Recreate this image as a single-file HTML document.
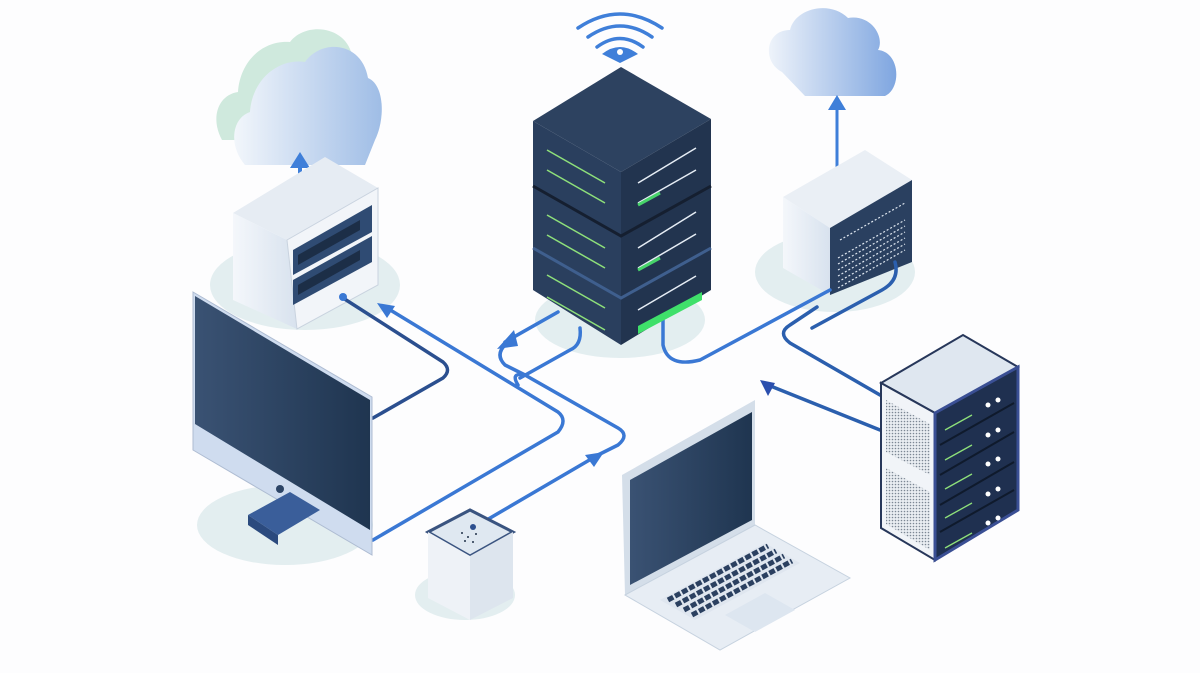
<!DOCTYPE html>
<html><head><meta charset="utf-8"><style>
html,body{margin:0;padding:0;background:#fdfdfe;}
svg{display:block}
</style></head><body>
<svg width="1200" height="673" viewBox="0 0 1200 673" xmlns="http://www.w3.org/2000/svg">
<defs>
<linearGradient id="cl" x1="0" x2="1" y1="0" y2="0"><stop offset="0" stop-color="#f2f6fb"/><stop offset="1" stop-color="#9fbde6"/></linearGradient>
<linearGradient id="cl2" x1="0" x2="1"><stop offset="0" stop-color="#eef3fa"/><stop offset="1" stop-color="#7fa6e0"/></linearGradient>
<linearGradient id="scr" x1="0" x2="1"><stop offset="0" stop-color="#3a5273"/><stop offset="1" stop-color="#1f3550"/></linearGradient>
<linearGradient id="lt" x1="0" x2="1"><stop offset="0" stop-color="#f4f7fb"/><stop offset="1" stop-color="#d8e2ee"/></linearGradient>
<pattern id="dots" width="3" height="3" patternUnits="userSpaceOnUse"><rect width="3" height="3" fill="#e9edf2"/><circle cx="1.5" cy="1.5" r="0.8" fill="#7c8794"/></pattern>
</defs>

<!-- shadows -->
<ellipse cx="305" cy="285" rx="95" ry="45" fill="#e3eef0"/>
<ellipse cx="620" cy="320" rx="85" ry="38" fill="#e3eef0"/>
<ellipse cx="835" cy="272" rx="80" ry="40" fill="#e3eef0"/>
<ellipse cx="285" cy="525" rx="88" ry="40" fill="#e3eef0"/>
<ellipse cx="465" cy="595" rx="50" ry="25" fill="#e3eef0"/>

<!-- left cloud -->
<g>
<path d="M222,140 C210,118 218,95 238,92 C240,62 262,40 290,42 C305,22 345,25 352,55 L352,140 Z" fill="#cfe9dd"/>
<path d="M245,165 C228,145 232,118 250,112 C252,80 278,58 305,62 C322,38 362,42 368,78 C385,85 385,120 375,140 L365,165 Z" fill="url(#cl)"/>
</g>
<line x1="300" y1="190" x2="300" y2="165" stroke="#3f7fd9" stroke-width="4"/>
<polygon points="290,168 300,152 310,168" fill="#3f7fd9"/>

<!-- NAS box -->
<polygon points="233,213 325,157 378,188 287,240" fill="#e6ecf3"/>
<polygon points="233,213 287,240 297,329 233,300" fill="url(#lt)"/>
<polygon points="287,240 378,188 378,285 297,329" fill="#f2f5f9" stroke="#c9d3df"/>
<polygon points="293,250 372,205 372,232 293,275" fill="#2f4b73"/>
<polygon points="293,280 372,236 372,262 293,305" fill="#2f4b73"/>
<polygon points="298,255 360,220 360,230 298,265" fill="#1c2e47"/>
<polygon points="298,285 360,250 360,260 298,295" fill="#1c2e47"/>

<!-- right cloud -->
<path d="M782,72 C762,62 765,30 790,30 C795,8 830,0 848,18 C872,14 885,38 878,50 C900,52 902,88 885,96 L805,96 Z" fill="url(#cl2)"/>
<line x1="837" y1="190" x2="837" y2="108" stroke="#3f7fd9" stroke-width="3"/>
<polygon points="828,110 837,95 846,110" fill="#3f7fd9"/>

<!-- right box -->
<polygon points="783,197 865,150 912,180 830,228" fill="#eaeff5"/>
<polygon points="783,197 830,228 830,295 783,268" fill="url(#lt)"/>
<polygon points="830,228 912,180 912,262 830,295" fill="#2a4060"/>
<g stroke="#dfe7f0" stroke-width="1.2" stroke-dasharray="2 2">
<line x1="840" y1="240" x2="905" y2="203"/>
<line x1="838" y1="258" x2="905" y2="220"/>
<line x1="838" y1="264" x2="905" y2="226"/>
<line x1="838" y1="270" x2="905" y2="232"/>
<line x1="838" y1="276" x2="905" y2="238"/>
<line x1="838" y1="282" x2="905" y2="244"/>
<line x1="838" y1="288" x2="905" y2="250"/>
</g>

<!-- connectors -->
<g fill="none" stroke="#3a78d4" stroke-width="3.5" stroke-linecap="round" stroke-linejoin="round">
<path d="M373,418 L443,378 Q452,370 443,362 L343,298" stroke="#2b4f8f"/>
<path d="M373,540 L558,432 Q568,420 558,412 L387,308"/>
<path d="M473,528 L598,455 L618,445 Q630,435 618,428 L525,375 Q510,372 518,385"/>
<path d="M505,342 L558,312"/>
<path d="M580,328 Q582,345 570,350 L520,378"/>
<path d="M505,345 Q495,355 505,365 L525,375"/>
<path d="M663,320 L663,345 Q668,368 700,360 L830,290"/>
<path d="M817,307 L790,325 Q777,333 790,343 L880,395" stroke="#2b5fae"/>
<path d="M880,430 L768,385" stroke="#2b5fae"/>
<path d="M895,262 Q900,280 882,290 L812,328" stroke="#2b5fae"/>
</g>
<polygon points="377,303 395,306 387,318" fill="#3a78d4"/>
<polygon points="497,349 514,330 518,346" fill="#3a78d4"/>
<polygon points="604,452 585,455 594,467" fill="#3a78d4"/>
<polygon points="760,380 775,383 768,396" fill="#2b4fae"/>
<circle cx="343" cy="297" r="4" fill="#3a78d4"/>

<!-- center server -->
<polygon points="533,121 621,67 711,119 621,172" fill="#2d4260"/>
<polygon points="533,121 621,172 621,345 533,290" fill="#2a3f5e"/>
<polygon points="621,172 711,119 711,290 621,345" fill="#22344f"/>
<polyline points="533,186 621,236 711,186" fill="none" stroke="#151f30" stroke-width="3"/>
<polyline points="533,248 621,298 711,248" fill="none" stroke="#3f5f8e" stroke-width="3"/>
<g stroke="#8ee07a" stroke-width="1.5">
<line x1="547" y1="150" x2="605" y2="183"/><line x1="547" y1="170" x2="605" y2="203"/>
<line x1="547" y1="215" x2="605" y2="248"/><line x1="547" y1="235" x2="605" y2="268"/>
<line x1="547" y1="275" x2="605" y2="308"/><line x1="547" y1="297" x2="605" y2="330"/>
</g>
<g stroke="#e6edf5" stroke-width="1.5">
<line x1="638" y1="183" x2="696" y2="148"/><line x1="638" y1="203" x2="696" y2="170"/>
<line x1="638" y1="248" x2="696" y2="212"/><line x1="638" y1="268" x2="696" y2="234"/>
<line x1="638" y1="310" x2="696" y2="276"/>
</g>
<g stroke="#47d36a" stroke-width="3"><line x1="638" y1="205" x2="660" y2="193"/><line x1="638" y1="270" x2="660" y2="258"/></g>
<polygon points="638,326 702,292 702,300 638,334" fill="#3fe06a"/>

<!-- wifi -->
<g fill="none" stroke="#3f7fd9" stroke-width="3.5" stroke-linecap="round">
<path d="M578,28 Q620,0 662,28"/><path d="M588,37 Q620,15 652,37"/><path d="M597,47 Q620,30 643,47"/>
</g>
<path d="M602,54 Q620,40 638,54 L620,63 Z" fill="#3f7fd9"/>
<circle cx="620" cy="52" r="3" fill="#fff"/>

<!-- right rack -->
<polygon points="881,383 963,335 1018,367 935,413" fill="#dfe7f0" stroke="#27375a" stroke-width="2"/>
<polygon points="881,383 935,413 935,560 881,528" fill="#f1f4f8" stroke="#27375a" stroke-width="2"/>
<polygon points="886,400 930,424 930,475 886,452" fill="url(#dots)"/>
<polygon points="886,468 930,492 930,550 886,524" fill="url(#dots)"/>
<polygon points="935,413 1018,367 1018,510 935,560" fill="#1f3050" stroke="#3a4f94" stroke-width="3"/>
<g stroke="#0f1a2c" stroke-width="2">
<line x1="940" y1="445" x2="1014" y2="403"/><line x1="940" y1="475" x2="1014" y2="432"/><line x1="940" y1="505" x2="1014" y2="462"/><line x1="940" y1="532" x2="1014" y2="490"/>
</g>
<g stroke="#8ee07a" stroke-width="1.3">
<line x1="945" y1="430" x2="972" y2="415"/><line x1="945" y1="460" x2="972" y2="445"/><line x1="945" y1="489" x2="972" y2="474"/><line x1="945" y1="518" x2="972" y2="503"/><line x1="945" y1="548" x2="972" y2="533"/>
</g>
<g fill="#fff">
<circle cx="988" cy="405" r="2.5"/><circle cx="998" cy="400" r="2.5"/>
<circle cx="988" cy="435" r="2.5"/><circle cx="998" cy="430" r="2.5"/>
<circle cx="988" cy="464" r="2.5"/><circle cx="998" cy="459" r="2.5"/>
<circle cx="988" cy="494" r="2.5"/><circle cx="998" cy="489" r="2.5"/>
<circle cx="988" cy="523" r="2.5"/><circle cx="998" cy="518" r="2.5"/>
</g>

<!-- monitor -->
<polygon points="193,292 372,397 372,555 193,450" fill="#cfdcef" stroke="#aebcd2"/>
<polygon points="195,296 370,400 370,530 195,424" fill="url(#scr)"/>
<circle cx="280" cy="489" r="4" fill="#2c4466"/>
<polygon points="248,515 290,492 320,510 278,535" fill="#3a5e9a"/>
<polygon points="248,515 278,535 278,545 248,525" fill="#2b4a7e"/>

<!-- cube -->
<polygon points="428,532 470,510 513,532 470,556" fill="#dfe8f1" stroke="#3a5480" stroke-width="3"/>
<polygon points="428,532 470,556 470,620 428,598" fill="#eef2f7"/>
<polygon points="470,556 513,532 513,598 470,620" fill="#dde5ee"/>
<circle cx="473" cy="527" r="3" fill="#2c4f8f"/>
<g fill="#22324a"><circle cx="462" cy="533" r="1"/><circle cx="468" cy="537" r="1"/><circle cx="476" cy="534" r="1"/><circle cx="465" cy="541" r="1"/><circle cx="473" cy="542" r="1"/></g>

<!-- laptop -->
<polygon points="622,475 755,400 755,525 625,595" fill="#d4dee9"/>
<polygon points="630,480 752,412 752,520 630,585" fill="url(#scr)"/>
<polygon points="625,595 755,525 850,578 720,650" fill="#e7edf4" stroke="#c6d2df"/>
<polygon points="660,600 765,543 800,563 695,620" fill="#dfe6ef"/>
<g stroke="#2b4060" stroke-width="5" stroke-dasharray="6 2">
<line x1="668" y1="600" x2="768" y2="546"/><line x1="676" y1="605" x2="776" y2="551"/><line x1="684" y1="610" x2="784" y2="556"/><line x1="692" y1="615" x2="792" y2="561"/>
</g>
<polygon points="725,615 765,593 795,610 755,632" fill="#dde6f0"/>
</svg>
</body></html>
